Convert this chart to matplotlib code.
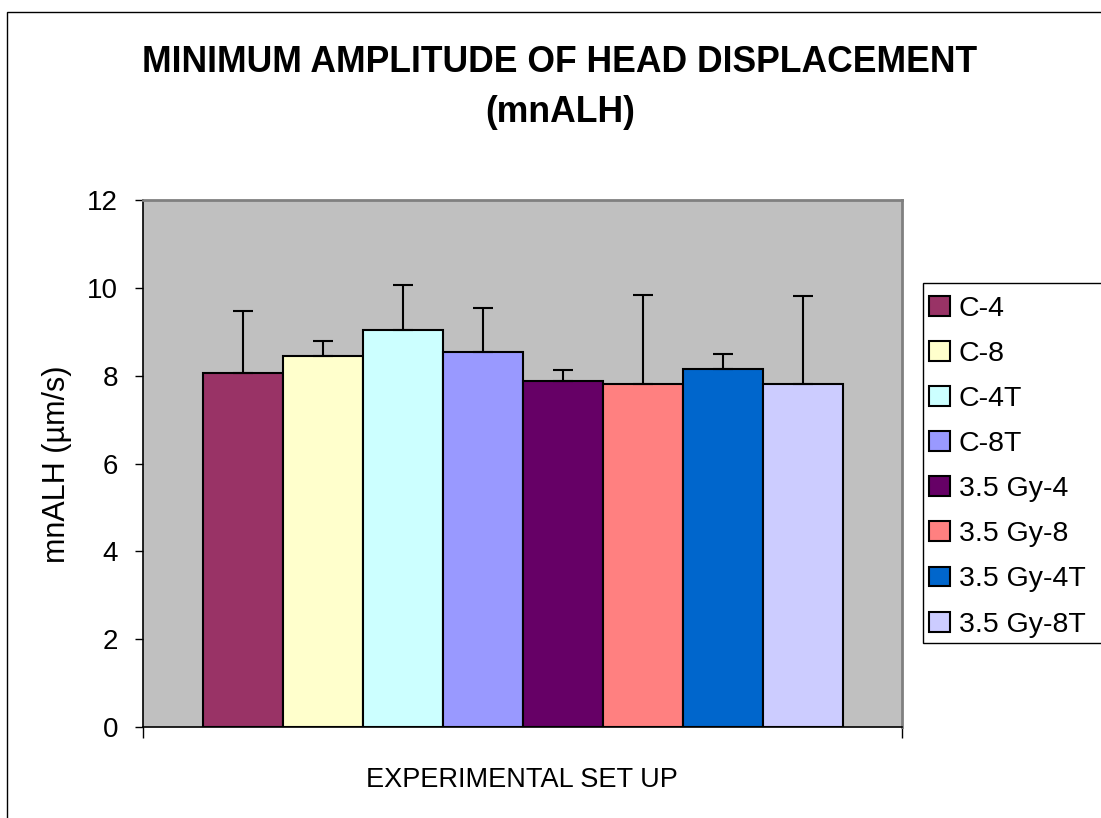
import numpy as np
import matplotlib
matplotlib.use("Agg")
import matplotlib.pyplot as plt
from matplotlib.patches import Rectangle, Patch

plt.rcParams['font.family'] = ['Liberation Sans', 'DejaVu Sans']

groups = ['C-4', 'C-8', 'C-4T', 'C-8T', '3.5 Gy-4', '3.5 Gy-8', '3.5 Gy-4T', '3.5 Gy-8T']
means = [8.07, 8.45, 9.05, 8.55, 7.88, 7.81, 8.16, 7.81]
sd = [1.40, 0.34, 1.01, 0.98, 0.24, 2.03, 0.33, 2.01]
colors = ['#993366', '#FFFFCC', '#CCFFFF', '#9999FF', '#660066', '#FF8080', '#0066CC', '#CCCCFF']

W, H = 1101, 818
fig = plt.figure(figsize=(W / 100, H / 100), dpi=100)

# chart border (Excel chart area)
fig.patches.append(Rectangle((7 / W, -0.05), 1.1, 1 - 12 / H + 0.05, transform=fig.transFigure,
                             fill=False, edgecolor='black', linewidth=1.0))

ax = fig.add_axes([143 / W, 1 - 727 / H, (902 - 143) / W, (727 - 200) / H])
ax.set_facecolor('#C0C0C0')

x = np.arange(len(groups))
for i in range(len(groups)):
    ax.bar(x[i], means[i], width=1.0, color=colors[i], edgecolor='black', linewidth=1.5,
           label=groups[i], zorder=2)
    ax.errorbar(x[i], means[i], yerr=[[0], [sd[i]]], fmt='none', ecolor='black',
                elinewidth=1.5, capsize=7, capthick=1.5, zorder=3)

ax.set_xlim(-1.25, 8.24)
ax.set_ylim(0, 12)
ax.set_yticks([0, 2, 4, 6, 8, 10, 12])
ax.tick_params(axis='y', direction='out', length=6, width=1, labelsize=20, pad=12)
ax.set_xticks([-1.25, 8.24])
ax.set_xticklabels([])
ax.tick_params(axis='x', direction='out', length=8, width=1)

for s in ['top', 'right']:
    ax.spines[s].set_color('#808080')
    ax.spines[s].set_linewidth(2)
ax.spines['left'].set_linewidth(1.2)
ax.spines['bottom'].set_linewidth(1.2)

fig.text(560 / W, 1 - 72 / H, 'MINIMUM AMPLITUDE OF HEAD DISPLACEMENT',
         ha='center', va='baseline', fontsize=25.6, fontweight='bold')
fig.text(560 / W, 1 - 122 / H, '(mnALH)',
         ha='center', va='baseline', fontsize=25.6, fontweight='bold')
fig.text(57 / W, 1 - 464 / H, 'mnALH (µm/s)', rotation=90, ha='center', va='center', fontsize=22)
fig.text(522 / W, 1 - 780 / H, 'EXPERIMENTAL SET UP', ha='center', va='center', fontsize=19.5)

# legend box, cut off on the right like the original
fig.patches.append(Rectangle((923 / W, 1 - 643 / H), 0.2, (643 - 283) / H, transform=fig.transFigure,
                             fill=True, facecolor='white', edgecolor='black', linewidth=1.0))
handles = [Patch(facecolor=c, edgecolor='black', linewidth=1.5) for c in colors]
leg = fig.legend(handles, groups, loc='upper left', bbox_to_anchor=(929 / W, 1 - 296 / H),
                 frameon=False, fontsize=20.5, handlelength=0.75, handleheight=0.7,
                 handletextpad=0.3, labelspacing=0.67, borderaxespad=0, borderpad=0.0)

fig.savefig('out.png', dpi=100)
